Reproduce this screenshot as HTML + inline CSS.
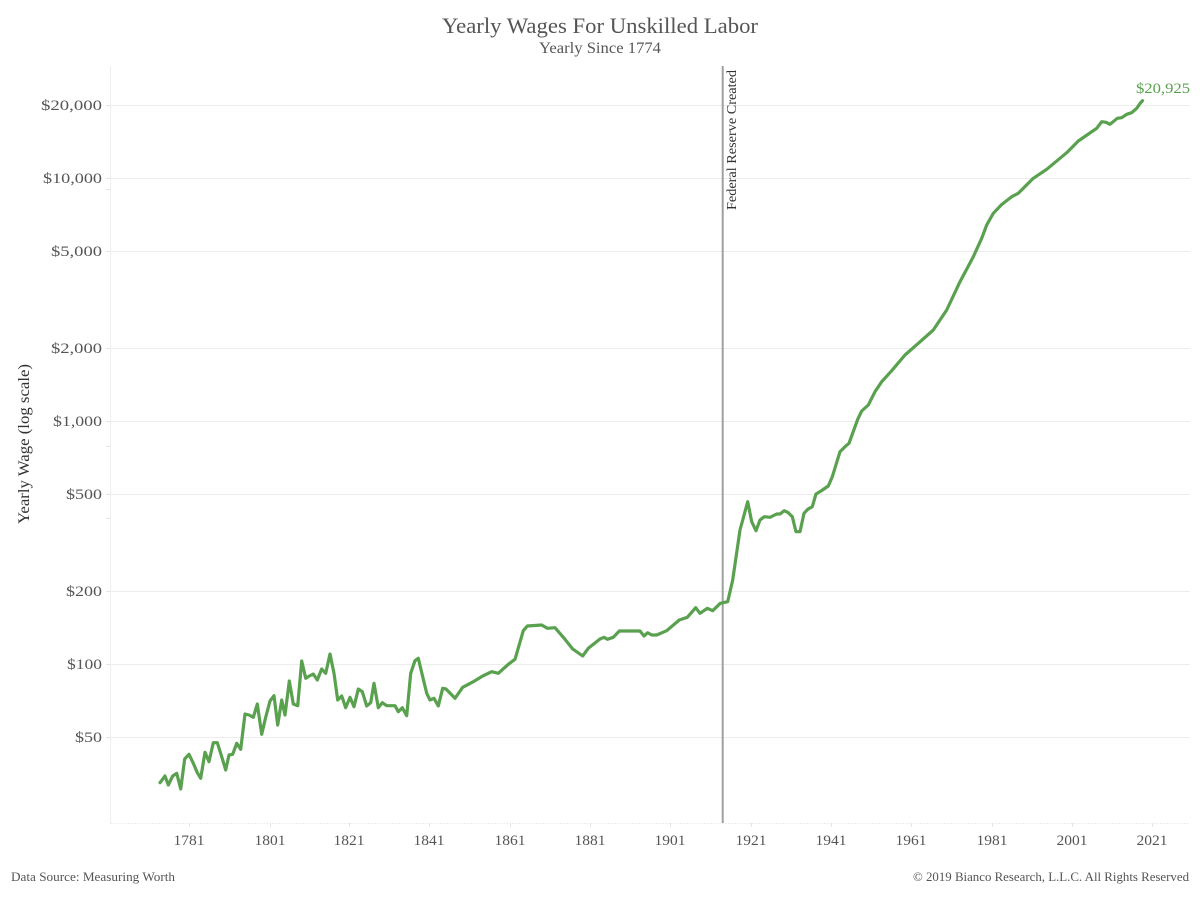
<!DOCTYPE html>
<html>
<head>
<meta charset="utf-8">
<style>
  html,body{margin:0;padding:0;background:#fff;}
  body{width:1200px;height:900px;overflow:hidden;}
  svg{display:block;}
  text{font-family:"Liberation Serif",serif;}
</style>
</head>
<body>
<svg width="1200" height="900" viewBox="0 0 1200 900" xmlns="http://www.w3.org/2000/svg">
  <rect width="1200" height="900" fill="#fff"/>
  <!-- Title -->
  <text x="442" y="33" font-size="22.5" fill="#555" textLength="316" lengthAdjust="spacingAndGlyphs">Yearly Wages For Unskilled Labor</text>
  <text x="539" y="53" font-size="15.5" fill="#555" textLength="122" lengthAdjust="spacingAndGlyphs">Yearly Since 1774</text>

  <!-- gridlines -->
  <g stroke="#ececec" stroke-width="1">
    <line x1="110" y1="105.5" x2="1190" y2="105.5"/>
    <line x1="110" y1="178.5" x2="1190" y2="178.5"/>
    <line x1="110" y1="251.5" x2="1190" y2="251.5"/>
    <line x1="110" y1="348.5" x2="1190" y2="348.5"/>
    <line x1="110" y1="421.5" x2="1190" y2="421.5"/>
    <line x1="110" y1="494.5" x2="1190" y2="494.5"/>
    <line x1="110" y1="591.5" x2="1190" y2="591.5"/>
    <line x1="110" y1="664.5" x2="1190" y2="664.5"/>
    <line x1="110" y1="737.5" x2="1190" y2="737.5"/>
  </g>
  <!-- axes -->
  <line x1="110.5" y1="66" x2="110.5" y2="823" stroke="#eeeeee" stroke-width="1"/>
  <line x1="110" y1="823.5" x2="1190" y2="823.5" stroke="#eeeeee" stroke-width="1" stroke-dasharray="2,1"/>
  <!-- minor ticks on y axis -->
  <g stroke="#e4e4e4" stroke-width="1">
    <line x1="106" y1="105.5" x2="110" y2="105.5"/>
    <line x1="106" y1="178.5" x2="110" y2="178.5"/>
    <line x1="106" y1="189.5" x2="110" y2="189.5"/>
    <line x1="106" y1="251.5" x2="110" y2="251.5"/>
    <line x1="106" y1="348.5" x2="110" y2="348.5"/>
    <line x1="106" y1="421.5" x2="110" y2="421.5"/>
    <line x1="106" y1="446.5" x2="110" y2="446.5"/>
    <line x1="106" y1="494.5" x2="110" y2="494.5"/>
    <line x1="106" y1="518.5" x2="110" y2="518.5"/>
    <line x1="106" y1="591.5" x2="110" y2="591.5"/>
    <line x1="106" y1="664.5" x2="110" y2="664.5"/>
    <line x1="106" y1="737.5" x2="110" y2="737.5"/>
  </g>
  <!-- x ticks -->
  <g stroke="#e4e4e4" stroke-width="1">
    <line x1="189.5" y1="823" x2="189.5" y2="827"/>
    <line x1="270.5" y1="823" x2="270.5" y2="827"/>
    <line x1="349.5" y1="823" x2="349.5" y2="827"/>
    <line x1="429.5" y1="823" x2="429.5" y2="827"/>
    <line x1="510.5" y1="823" x2="510.5" y2="827"/>
    <line x1="590.5" y1="823" x2="590.5" y2="827"/>
    <line x1="670.5" y1="823" x2="670.5" y2="827"/>
    <line x1="751.5" y1="823" x2="751.5" y2="827"/>
    <line x1="831.5" y1="823" x2="831.5" y2="827"/>
    <line x1="911.5" y1="823" x2="911.5" y2="827"/>
    <line x1="992.5" y1="823" x2="992.5" y2="827"/>
    <line x1="1072.5" y1="823" x2="1072.5" y2="827"/>
    <line x1="1152.5" y1="823" x2="1152.5" y2="827"/>
  </g>

  <!-- y labels -->
  <g font-size="15" fill="#555" text-anchor="end" lengthAdjust="spacingAndGlyphs">
    <text x="102" y="110" textLength="61" lengthAdjust="spacingAndGlyphs">$20,000</text>
    <text x="102" y="183" textLength="59" lengthAdjust="spacingAndGlyphs">$10,000</text>
    <text x="102" y="256" textLength="51" lengthAdjust="spacingAndGlyphs">$5,000</text>
    <text x="102" y="353" textLength="51" lengthAdjust="spacingAndGlyphs">$2,000</text>
    <text x="102" y="426" textLength="49" lengthAdjust="spacingAndGlyphs">$1,000</text>
    <text x="102" y="499" textLength="36" lengthAdjust="spacingAndGlyphs">$500</text>
    <text x="102" y="596" textLength="36" lengthAdjust="spacingAndGlyphs">$200</text>
    <text x="102" y="669" textLength="35" lengthAdjust="spacingAndGlyphs">$100</text>
    <text x="102" y="742" textLength="27" lengthAdjust="spacingAndGlyphs">$50</text>
  </g>
  <text transform="translate(29,444) rotate(-90)" text-anchor="middle" font-size="16" fill="#333" textLength="160" lengthAdjust="spacingAndGlyphs">Yearly Wage (log scale)</text>

  <!-- x labels -->
  <g font-size="15" fill="#555" text-anchor="middle">
    <text x="189" y="845" textLength="31" lengthAdjust="spacingAndGlyphs">1781</text>
    <text x="270" y="845" textLength="31" lengthAdjust="spacingAndGlyphs">1801</text>
    <text x="349" y="845" textLength="31" lengthAdjust="spacingAndGlyphs">1821</text>
    <text x="429" y="845" textLength="31" lengthAdjust="spacingAndGlyphs">1841</text>
    <text x="510" y="845" textLength="31" lengthAdjust="spacingAndGlyphs">1861</text>
    <text x="590" y="845" textLength="31" lengthAdjust="spacingAndGlyphs">1881</text>
    <text x="670" y="845" textLength="31" lengthAdjust="spacingAndGlyphs">1901</text>
    <text x="751" y="845" textLength="31" lengthAdjust="spacingAndGlyphs">1921</text>
    <text x="831" y="845" textLength="31" lengthAdjust="spacingAndGlyphs">1941</text>
    <text x="911" y="845" textLength="31" lengthAdjust="spacingAndGlyphs">1961</text>
    <text x="992" y="845" textLength="31" lengthAdjust="spacingAndGlyphs">1981</text>
    <text x="1072" y="845" textLength="31" lengthAdjust="spacingAndGlyphs">2001</text>
    <text x="1152" y="845" textLength="31" lengthAdjust="spacingAndGlyphs">2021</text>
  </g>

  <!-- Fed line -->
  <line x1="722.7" y1="66" x2="722.7" y2="823" stroke="#a0a0a0" stroke-width="2"/>
  <text transform="translate(736,210) rotate(-90)" font-size="14" fill="#333" textLength="140" lengthAdjust="spacingAndGlyphs">Federal Reserve Created</text>

  <!-- series -->
  <polyline fill="none" stroke="#59a14f" stroke-width="3.2" stroke-linejoin="round" stroke-linecap="round" points="
160,782.7 165,776 168.3,785 172.7,776 176.7,773.3 180.7,789 184.7,759 189,754.3 193.3,763.3 197.3,772.7 200.7,778.3
205,752.3 209,761.7 213.3,742.7 217.3,742.7 221.7,756.7 225.7,770 229,755 232.7,754.3 236.7,743.3 240.7,749.3
245,714 249,715 253.3,717.3 257.3,704 261.7,734.3 265.7,717.3 270,701 274,695.7 277.7,725 281.7,700 285,715
289.3,681 293.3,704 297.7,705.7 301.7,661 305.7,678.3 309.3,676 313.3,674 317.3,680 321.7,669 325.7,673.3
330,654 334,673.3 337.7,700 341.7,696 345.7,707.7 350,697.3 354,706.7 358.3,689 362.3,691.7 366.7,706
370.7,702.7 374,683.3 378.3,707.7 382.3,702.7 386.7,705.7 395,705.7 398.3,711.7 402.3,707.7 406.7,715.7
410.7,673.3 415,660.7 418.3,658.3 422.7,676.7 426.7,693.3 430,700 434,698.3 438.3,706 442.7,688.3 446,689
455,698.3 462.7,687.3 473.3,681.7 482.7,676 491.7,671.7 498.3,673.3 508.3,664.3 515,659.3 523.3,630.7
527.3,626 541.7,625 547.3,628.3 555,627.7 563.3,637.3 572.7,649 582.7,656 588.3,648.3 600,639 604,637.3
607.3,639.3 613.3,637.3 619.3,631 640,631 644,636 647.7,632.7 651.7,635 656.7,635 666.7,630.7 679.3,620
687.3,617.3 695.7,607.7 700,613.3 707.3,608.3 712.7,610.7 720.3,603.3 727.7,601.7 732.7,580 740,530
747.7,501.7 751.7,521.7 756,530.7 760,520 764.3,516.7 770,517.3 776.7,514 780,514 784.3,510.7 788.3,512.7
792.3,516.7 796,531.7 800,531.7 804,513.3 807.7,509.3 812.3,506.7 816,494 821,491 828.3,486 832.3,476.7
840,451.7 845,446.7 849,443.3 857.7,419.3 861.7,411 868.3,405 875,391.7 881.7,381.7 891.7,370.7 905,355
918.3,343.3 933.3,330 946.7,310 960,281.7 973.3,256.7 981.7,238.3 986.7,225 993.3,213.3 1001.7,204.5
1011.7,196.7 1018.3,193.3 1033.3,178.3 1046.7,169.3 1066.7,152.7 1078.3,141 1096.7,128.3 1101.7,121.7
1106,122.3 1110,124.3 1117.3,118.3 1121.7,117.7 1126.7,114.3 1131.7,112.7 1136.7,108.3 1140,103.5 1142.5,100.7"/>
  <text x="1136" y="93" font-size="15" fill="#59a14f" textLength="54" lengthAdjust="spacingAndGlyphs">$20,925</text>

  <!-- footer -->
  <text x="11" y="881" font-size="13" fill="#555" textLength="164" lengthAdjust="spacingAndGlyphs">Data Source: Measuring Worth</text>
  <text x="913" y="881" font-size="13" fill="#555" textLength="276" lengthAdjust="spacingAndGlyphs">© 2019 Bianco Research, L.L.C. All Rights Reserved</text>
</svg>
</body>
</html>
